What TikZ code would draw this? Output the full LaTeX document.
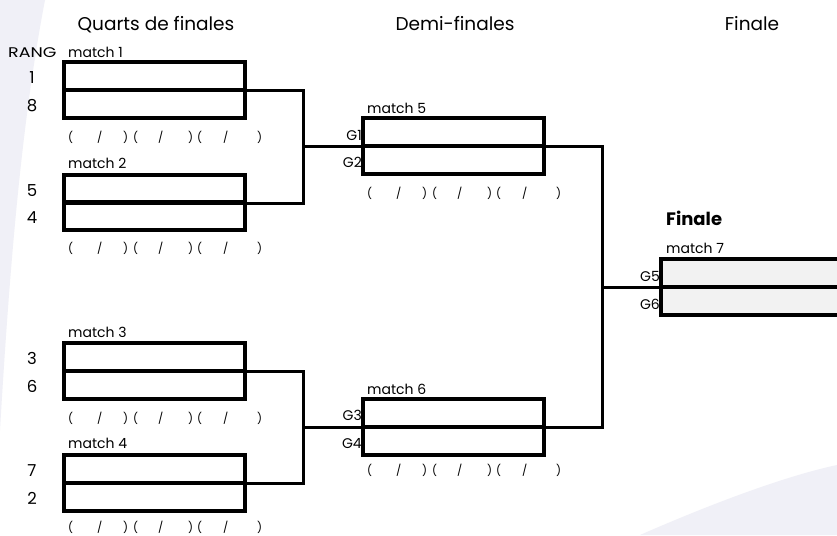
\documentclass[tikz,border=0pt]{standalone}
\usepackage{fontspec}
\setmainfont{Poppins}
\begin{document}
\begin{tikzpicture}[x=1pt,y=-1pt,
  slot/.style={draw=black,line width=3.2pt,minimum width=181pt,minimum height=28pt,inner sep=0pt,outer sep=0pt,anchor=north west},
  fslot/.style={slot,fill=black!5,minimum width=200pt},
  conn/.style={draw=black,line width=3pt},
  head/.style={font=\fontsize{18.5}{20}\selectfont,anchor=base,inner sep=0pt},
  mlabel/.style={font=\fontsize{14}{16}\selectfont,anchor=base west,inner sep=0pt},
  rank/.style={font=\fontsize{16.5}{18}\selectfont,anchor=base,inner sep=0pt},
  glabel/.style={font=\fontsize{14}{16}\selectfont,anchor=base east,inner sep=0pt},
  score/.style={font=\fontsize{11}{12}\selectfont,anchor=base west,inner sep=0pt}]
\clip (0,0) rectangle (837,535);
\fill[white] (0,0) rectangle (837,535);
% faint background swooshes
\fill[blue!30!gray!9] (0,0) -- (45,0) .. controls (22,120) and (10,260) .. (0,430) -- cycle;
\fill[blue!30!gray!9] (640,535) .. controls (720,500) and (790,475) .. (837,465) -- (837,535) -- cycle;
\newcommand{\scoreline}{\rlap{(}\hspace{29pt}\rlap{/}\hspace{26pt}\rlap{)}\hspace{10pt}\rlap{(}\hspace{25pt}\rlap{/}\hspace{30pt}\rlap{)}\hspace{9pt}\rlap{(}\hspace{26pt}\rlap{/}\hspace{34pt})}
% headings
\node[head] (h1) at (156,31) {Quarts de finales};
\node[head] (h2) at (455,31) {Demi-finales};
\node[head] (h3) at (752,31) {Finale};
\node[mlabel] (rang) at (8,58) {\scalebox{1.25}[1]{RANG}};
% quarter-final boxes
\node[slot] (m1a) at (64,62) {};
\node[slot] (m1b) at (64,90) {};
\node[slot] (m2a) at (64,175) {};
\node[slot] (m2b) at (64,202) {};
\node[slot] (m3a) at (64,343) {};
\node[slot] (m3b) at (64,371) {};
\node[slot] (m4a) at (64,455) {};
\node[slot] (m4b) at (64,483) {};
% semi-final boxes
\node[slot] (m5a) at (363,118) {};
\node[slot] (m5b) at (363,146) {};
\node[slot] (m6a) at (363,399) {};
\node[slot] (m6b) at (363,427) {};
% final
\node[fslot] (m7a) at (661,259) {};
\node[fslot] (m7b) at (661,287) {};
% match labels
\node[mlabel] (l1) at (68,58) {match 1};
\node[mlabel] (l2) at (68,168) {match 2};
\node[mlabel] (l3) at (68,337) {match 3};
\node[mlabel] (l4) at (68,448) {match 4};
\node[mlabel] (l5) at (367,113) {match 5};
\node[mlabel] (l6) at (367,394) {match 6};
\node[mlabel] (l7) at (666,253) {match 7};
\node[font=\bfseries\fontsize{18}{20}\selectfont,anchor=base west,inner sep=0pt] (fin) at (666,225) {Finale};
% ranks
\node[rank] (r1) at (32,83) {1};
\node[rank] (r8) at (32,111) {8};
\node[rank] (r5) at (32,196) {5};
\node[rank] (r4) at (32,223) {4};
\node[rank] (r3) at (32,364) {3};
\node[rank] (r6) at (32,392) {6};
\node[rank] (r7) at (32,476) {7};
\node[rank] (r2) at (32,504) {2};
% G labels
\node[glabel] (g1) at (362,140) {G1};
\node[glabel] (g2) at (362,167) {G2};
\node[glabel] (g3) at (362,420) {G3};
\node[glabel] (g4) at (362,448) {G4};
\node[glabel] (g5) at (660,281) {G5};
\node[glabel] (g6) at (660,309) {G6};
% score lines
\node[score] (s1) at (68,141) {\scoreline};
\node[score] (s2) at (68,252) {\scoreline};
\node[score] (s3) at (68,422) {\scoreline};
\node[score] (s4) at (68,531) {\scoreline};
\node[score] (s5) at (367,197) {\scoreline};
\node[score] (s6) at (367,474) {\scoreline};
% connectors
\coordinate (v1) at (303,146);
\coordinate (v2) at (303,427);
\coordinate (v3) at (602,287);
\draw[conn] (m1a.south east) -| (v1) |- (m2a.south east);
\draw[conn] (v1) -- (m5a.south west);
\draw[conn] (m3a.south east) -| (v2) |- (m4a.south east);
\draw[conn] (v2) -- (m6a.south west);
\draw[conn] (m5a.south east) -| (v3) |- (m6a.south east);
\draw[conn] (v3) -- (m7a.south west);
\end{tikzpicture}
\end{document}
